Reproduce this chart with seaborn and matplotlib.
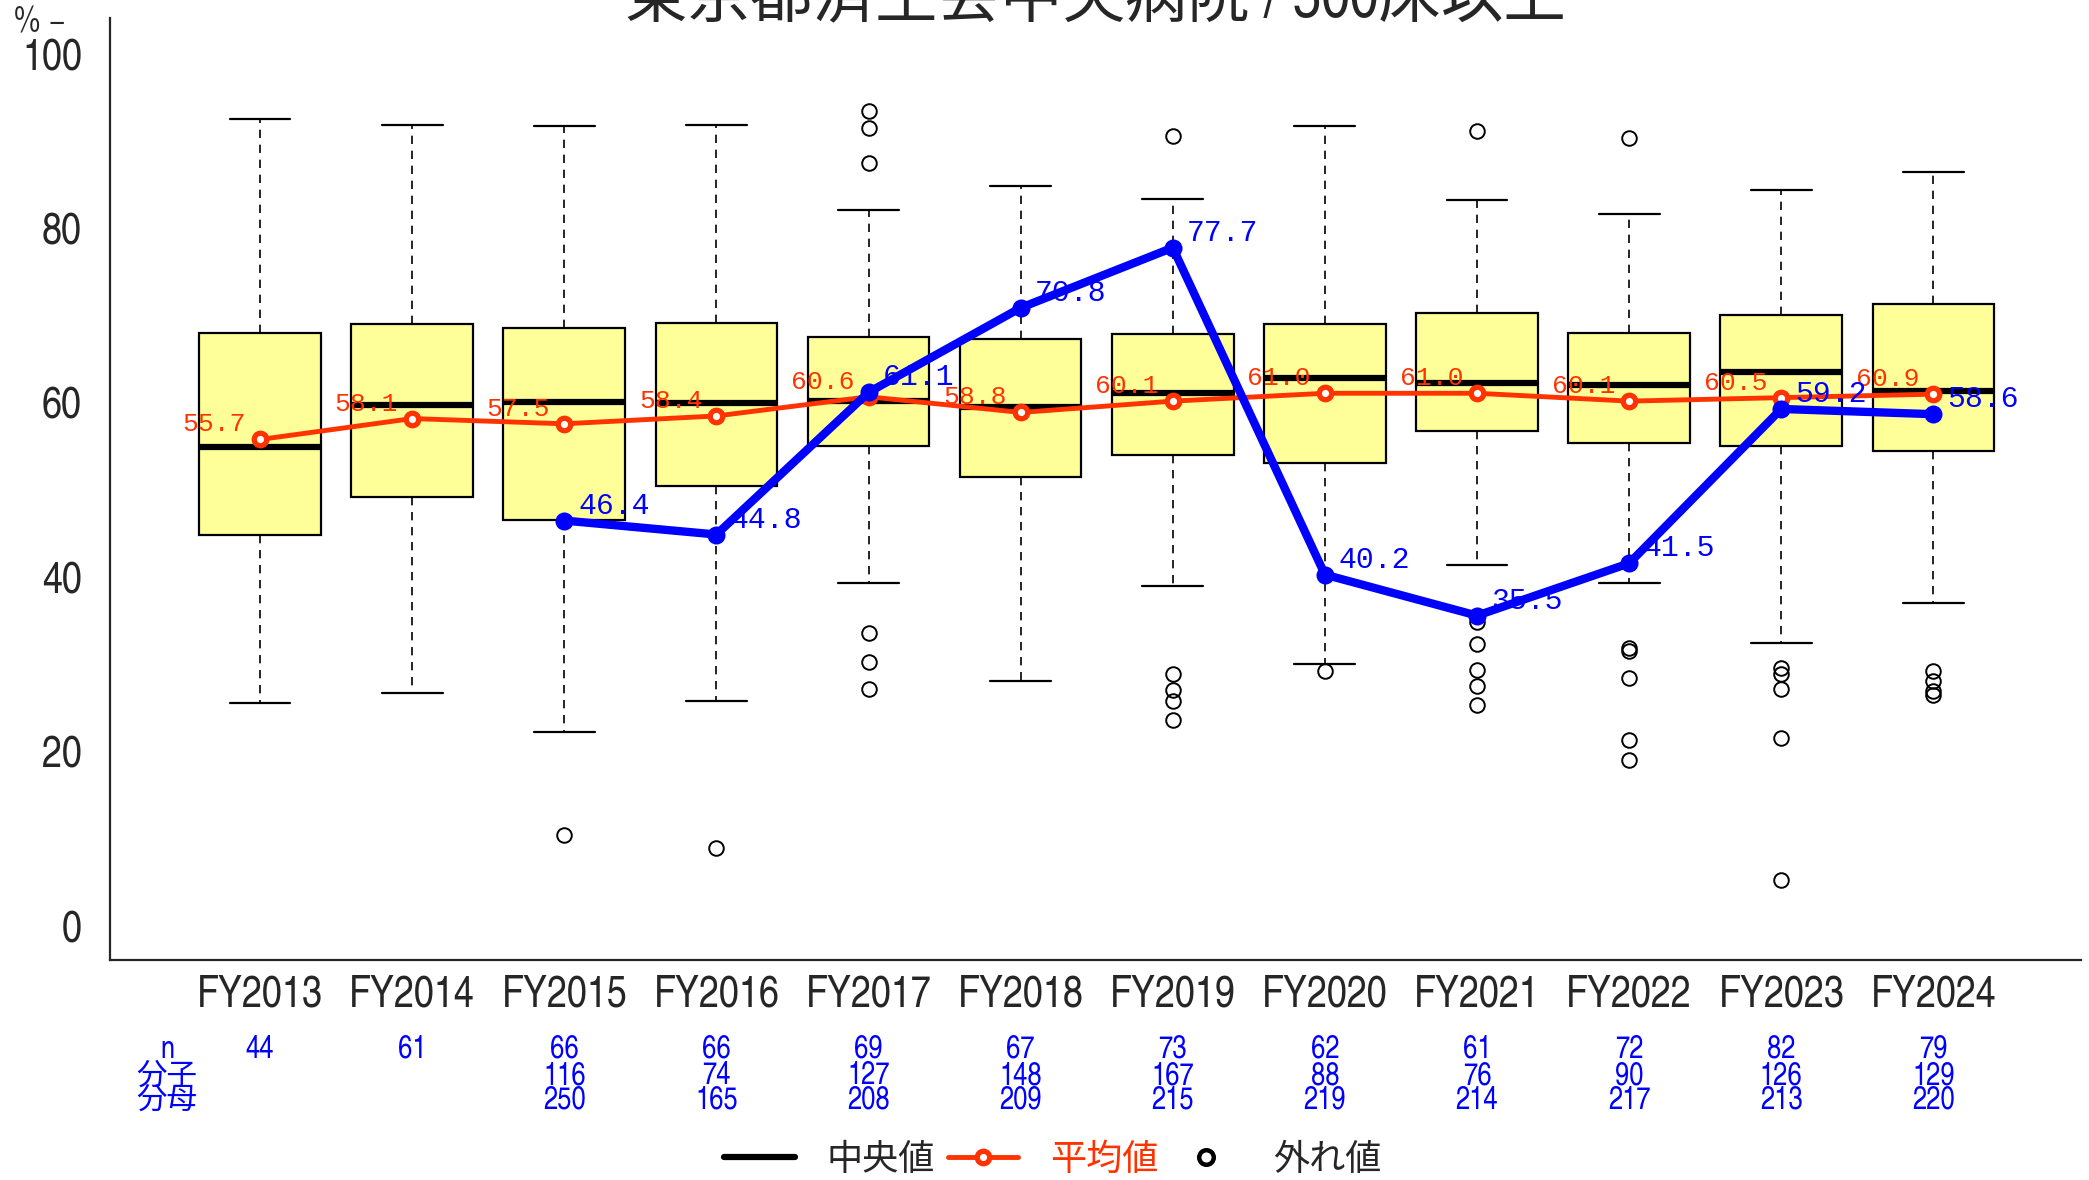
import matplotlib
matplotlib.use('Agg')
import matplotlib.pyplot as plt
from matplotlib.lines import Line2D
import seaborn as sns
import pandas as pd

# 年度
years = ['FY2013', 'FY2014', 'FY2015', 'FY2016', 'FY2017', 'FY2018',
         'FY2019', 'FY2020', 'FY2021', 'FY2022', 'FY2023', 'FY2024']

# 箱ひげ図（全病院）
box_q1 = [44.8, 49.1, 46.5, 50.4, 55.0, 51.4, 53.9, 53.0, 56.7, 55.3, 54.9, 54.4]
box_med = [54.8, 59.6, 60.0, 59.9, 60.1, 59.4, 61.0, 62.8, 62.2, 62.0, 63.4, 61.3]
box_q3 = [67.9, 68.9, 68.5, 69.1, 67.5, 67.2, 67.8, 68.9, 70.2, 67.9, 70.0, 71.2]
whisk_lo = [25.5, 26.6, 22.2, 25.7, 39.2, 28.0, 38.9, 29.9, 41.3, 39.2, 32.4, 37.0]
whisk_hi = [92.4, 91.8, 91.6, 91.8, 82.0, 84.8, 83.3, 91.7, 83.2, 81.6, 84.3, 86.4]
outliers = [[], [], [10.3], [8.8],
            [93.4, 91.4, 87.4, 33.5, 30.2, 27.1], [],
            [90.5, 28.8, 27.0, 25.7, 23.5], [29.2],
            [91.1, 34.8, 32.3, 29.3, 27.4, 25.3],
            [90.3, 31.8, 31.4, 28.3, 21.2, 18.9],
            [29.5, 28.8, 27.1, 21.5, 5.2],
            [29.1, 28.0, 26.9, 26.4]]

# 平均値
means = [55.7, 58.1, 57.5, 58.4, 60.6, 58.8, 60.1, 61.0, 61.0, 60.1, 60.5, 60.9]

# 当院の値
hosp = [None, None, 46.4, 44.8, 61.1, 70.8, 77.7, 40.2, 35.5, 41.5, 59.2, 58.6]

# 表
n_count = [44, 61, 66, 66, 69, 67, 73, 62, 61, 72, 82, 79]
bunshi = [None, None, 116, 74, 127, 148, 167, 88, 76, 90, 126, 129]
bunbo = [None, None, 250, 165, 208, 209, 215, 219, 214, 217, 213, 220]

RED = '#FF3300'
BLUE = '#0000FF'

sns.set_style('white')
plt.rcParams['font.family'] = ['TeX Gyre Heros Cn', 'Noto Sans CJK JP', 'DejaVu Sans']

df = pd.DataFrame({'pos': range(len(years)), 'year': years,
                   'mean': means,
                   'hosp': [float('nan') if v is None else v for v in hosp]})

fig = plt.figure(figsize=(20.89, 11.8), dpi=100)
ax = fig.add_axes([0.05266, 0.18644, 0.9435, 0.7980])

# 箱ひげ図
stats = []
for i in range(len(years)):
    stats.append(dict(q1=box_q1[i], med=box_med[i], q3=box_q3[i],
                      whislo=whisk_lo[i], whishi=whisk_hi[i],
                      fliers=outliers[i], label=years[i]))
ax.bxp(stats, positions=list(range(len(years))), widths=0.8, capwidths=0.4,
       patch_artist=True,
       boxprops=dict(facecolor='#FFFF99', edgecolor='black', linewidth=1.6),
       medianprops=dict(color='black', linewidth=4.5, solid_capstyle='butt'),
       whiskerprops=dict(color='black', linestyle=(0, (5, 4)), linewidth=1.2),
       capprops=dict(color='black', linewidth=1.6),
       flierprops=dict(marker='o', markerfacecolor='none', markeredgecolor='black',
                       markersize=10.5, markeredgewidth=1.4),
       zorder=2)

# 平均値の線
sns.lineplot(data=df, x='pos', y='mean', color=RED, linewidth=3.5,
             marker='o', markersize=9, markerfacecolor='white',
             markeredgecolor=RED, markeredgewidth=3.8, legend=False,
             errorbar=None, ax=ax, zorder=4)
for i, v in enumerate(means):
    ax.annotate(f'{v:.1f}', (i, v), xytext=(-14, 8), textcoords='offset pixels',
                ha='right', va='baseline', color=RED, fontsize=19,
                family='Liberation Mono', zorder=3)

# 当院の線
sns.lineplot(data=df.dropna(subset=['hosp']), x='pos', y='hosp', color=BLUE,
             linewidth=6, marker='o', markersize=13, markeredgewidth=0,
             legend=False, errorbar=None, ax=ax, zorder=6)
for i, v in enumerate(hosp):
    if v is None:
        continue
    ax.annotate(f'{v:.1f}', (i, v), xytext=(14, 7), textcoords='offset pixels',
                ha='left', va='baseline', color=BLUE, fontsize=21.5,
                family='Liberation Mono', zorder=5)

ax.set_xlim(-0.986, 11.97)
ax.set_ylim(-4, 104)
ax.set_xticks(range(len(years)))
ax.set_xticklabels(years)
ax.set_yticks([0, 20, 40, 60, 80, 100])
ax.set_xlabel('')
ax.set_ylabel('')
ax.tick_params(axis='x', length=9.4, width=1.3, pad=1, labelsize=31.5, direction='out')
ax.tick_params(axis='y', length=9.2, width=1.3, pad=11, labelsize=31.5, direction='out')
ax.spines['top'].set_visible(False)
ax.spines['right'].set_visible(False)
for s in ['left', 'bottom']:
    ax.spines[s].set_linewidth(1.6)

# 表（n / 分子 / 分母）
tr = ax.get_xaxis_transform()
rows_y = [-0.1038, -0.1320, -0.1582]
for i in range(len(years)):
    ax.text(i, rows_y[0], str(n_count[i]), transform=tr, ha='center', va='baseline',
            color=BLUE, fontsize=22.5, clip_on=False)
    if bunshi[i] is not None:
        ax.text(i, rows_y[1], str(bunshi[i]), transform=tr, ha='center', va='baseline',
                color=BLUE, fontsize=22.5, clip_on=False)
        ax.text(i, rows_y[2], str(bunbo[i]), transform=tr, ha='center', va='baseline',
                color=BLUE, fontsize=22.5, clip_on=False)
for lab, yy in zip(['n', '分子', '分母'], rows_y):
    ax.text(-0.611, yy, lab, transform=tr, ha='center', va='baseline',
            color=BLUE, fontsize=22, clip_on=False)

# タイトルと単位
fig.text(0.5242, 0.9856, '東京都済生会中央病院 / 500床以上', ha='center', va='baseline',
         fontsize=45)
fig.text(0.0067, 1 - 23 / 1180, '% −', ha='left', va='center', fontsize=26)

# 凡例
handles = [
    Line2D([], [], color='black', linewidth=4.5),
    Line2D([], [], color=RED, linewidth=3.5, marker='o', markersize=9,
           markerfacecolor='white', markeredgecolor=RED, markeredgewidth=3.8),
    Line2D([], [], linestyle='none', marker='o', markersize=10.5,
           markerfacecolor='none', markeredgecolor='black', markeredgewidth=3.2),
]
leg = fig.legend(handles, ['中央値', '平均値', '外れ値'], loc='center',
                 bbox_to_anchor=(0.504, 0.0165), ncol=3, frameon=False, fontsize=26,
                 handlelength=1.95, handletextpad=0.88, columnspacing=0.35,
                 borderpad=0, borderaxespad=0)
leg.get_texts()[1].set_color(RED)

fig.savefig('out.png', dpi=100)
